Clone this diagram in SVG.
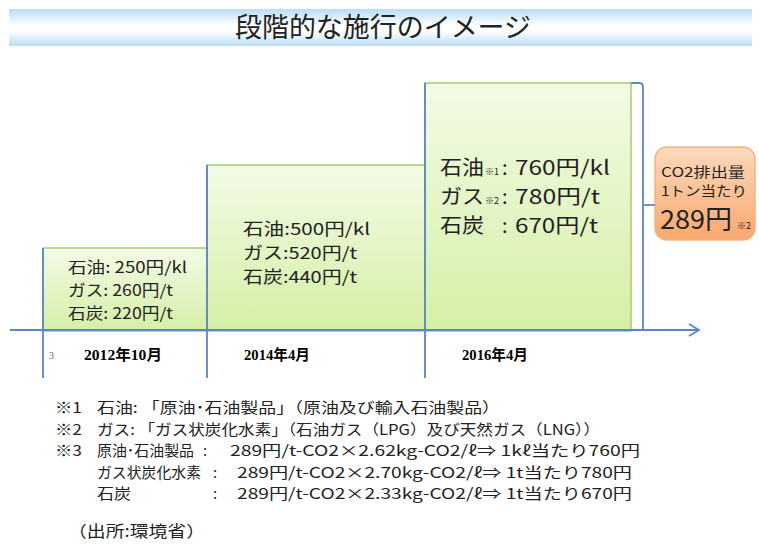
<svg xmlns="http://www.w3.org/2000/svg" width="759" height="544" viewBox="0 0 759 544">
<defs>
<linearGradient id="banner" x1="0" y1="0" x2="0" y2="1">
<stop offset="0" stop-color="#b9dcf6"/>
<stop offset="0.45" stop-color="#ffffff"/>
<stop offset="0.6" stop-color="#ffffff"/>
<stop offset="1" stop-color="#b9dcf6"/>
</linearGradient>
<linearGradient id="bar" x1="0" y1="0" x2="0" y2="1">
<stop offset="0" stop-color="#f3fbe6"/>
<stop offset="1" stop-color="#d5efa6"/>
</linearGradient>
<linearGradient id="orange" x1="0" y1="0" x2="0" y2="1">
<stop offset="0" stop-color="#fcd9bd"/>
<stop offset="1" stop-color="#f9a86e"/>
</linearGradient>
</defs>
<style>
.jp{font-family:"Noto Sans CJK JP","Noto Sans",sans-serif;fill:#222}
.bar{fill:url(#bar);stroke:#a8cc6c;stroke-width:1.5}
.blue{stroke:#5b86c5;stroke-width:1.8;fill:none}
.yr{font-family:"Liberation Serif","Noto Sans CJK JP",serif;font-weight:bold;font-size:15px;fill:#000}
.fn{font-family:"Noto Sans CJK JP","Noto Sans",sans-serif;font-size:14.8px;fill:#222}
</style>
<rect width="759" height="544" fill="#ffffff"/>
<g id="title">
<rect x="9" y="9" width="743" height="37" fill="url(#banner)"/>
<text x="383" y="37" text-anchor="middle" class="jp" font-size="27" fill="#111" textLength="296" lengthAdjust="spacingAndGlyphs">段階的な施行のイメージ</text>
</g>
<g id="bar2012">
<rect class="bar" x="43" y="248" width="164" height="83"/>
<text class="jp" font-size="15.5" x="68" y="273" textLength="119" lengthAdjust="spacingAndGlyphs">石油: 250円/kl</text>
<text class="jp" font-size="15.5" x="68" y="296" textLength="105" lengthAdjust="spacingAndGlyphs">ガス: 260円/t</text>
<text class="jp" font-size="15.5" x="68" y="318.5" textLength="105" lengthAdjust="spacingAndGlyphs">石炭: 220円/t</text>
</g>
<g id="bar2014">
<rect class="bar" x="207" y="165" width="218" height="166"/>
<text class="jp" font-size="16.5" x="243" y="235" textLength="127" lengthAdjust="spacingAndGlyphs">石油:500円/kl</text>
<text class="jp" font-size="16.5" x="243" y="259" textLength="114" lengthAdjust="spacingAndGlyphs">ガス:520円/t</text>
<text class="jp" font-size="16.5" x="243" y="283" textLength="114" lengthAdjust="spacingAndGlyphs">石炭:440円/t</text>
</g>
<g id="bar2016">
<rect class="bar" x="425" y="83" width="206" height="248"/>
<text class="jp" font-size="20" x="440" y="175" textLength="44" lengthAdjust="spacingAndGlyphs">石油</text>
<text class="jp" font-size="9" x="485" y="175">※1</text>
<text class="jp" font-size="20" x="502" y="175">:</text>
<text class="jp" font-size="20" x="515" y="175" textLength="95" lengthAdjust="spacingAndGlyphs">760円/kl</text>
<text class="jp" font-size="20" x="440" y="204" textLength="44" lengthAdjust="spacingAndGlyphs">ガス</text>
<text class="jp" font-size="9" x="485" y="204">※2</text>
<text class="jp" font-size="20" x="502" y="204">:</text>
<text class="jp" font-size="20" x="515" y="204" textLength="85" lengthAdjust="spacingAndGlyphs">780円/t</text>
<text class="jp" font-size="20" x="440" y="233" textLength="44" lengthAdjust="spacingAndGlyphs">石炭</text>
<text class="jp" font-size="20" x="502" y="233">:</text>
<text class="jp" font-size="20" x="515" y="233" textLength="83" lengthAdjust="spacingAndGlyphs">670円/t</text>
</g>
<g id="co2box">
<rect x="655" y="147" width="100" height="93" rx="12" fill="url(#orange)" stroke="#f5b27f" stroke-width="1.5"/>
<text class="jp" font-size="13.5" x="661" y="177" textLength="84" lengthAdjust="spacingAndGlyphs">CO2排出量</text>
<text class="jp" font-size="13.5" x="661" y="196" textLength="86" lengthAdjust="spacingAndGlyphs">1トン当たり</text>
<text class="jp" font-size="26" x="660" y="229" textLength="72" lengthAdjust="spacingAndGlyphs">289円</text>
<text class="jp" font-size="9" x="737" y="229">※2</text>
</g>
<g id="connectors">
<line class="blue" x1="10" y1="330" x2="699" y2="330"/>
<polyline class="blue" points="689,324 699,330 689,336" stroke-width="2"/>
<line class="blue" x1="43" y1="248" x2="43" y2="378"/>
<line class="blue" x1="207" y1="165" x2="207" y2="378"/>
<line class="blue" x1="425" y1="83" x2="425" y2="378"/>
<path class="blue" d="M631,83 H639 Q643,83 643,87 V330" stroke="#7fa2d6"/>
<line class="blue" x1="643" y1="205" x2="655" y2="205" stroke="#7fa2d6"/>
</g>
<g id="years">
<text x="49" y="359" font-family="Liberation Serif,serif" font-size="10" fill="#666">3</text>
<text class="yr" x="84" y="360" textLength="78" lengthAdjust="spacingAndGlyphs">2012年10月</text>
<text class="yr" x="244" y="360" textLength="66" lengthAdjust="spacingAndGlyphs">2014年4月</text>
<text class="yr" x="462" y="360" textLength="66" lengthAdjust="spacingAndGlyphs">2016年4月</text>
</g>
<g id="notes">
<text class="fn" x="55" y="413" textLength="27" lengthAdjust="spacingAndGlyphs">※1</text>
<text class="fn" x="97" y="413" textLength="403" lengthAdjust="spacingAndGlyphs">石油: 「原油･石油製品」（原油及び輸入石油製品）</text>
<text class="fn" x="55" y="434.5" textLength="27" lengthAdjust="spacingAndGlyphs">※2</text>
<text class="fn" x="97" y="434.5" textLength="503" lengthAdjust="spacingAndGlyphs">ガス: 「ガス状炭化水素」（石油ガス（LPG）及び天然ガス（LNG））</text>
<text class="fn" x="55" y="456" textLength="27" lengthAdjust="spacingAndGlyphs">※3</text>
<text class="fn" x="97" y="456" textLength="97" lengthAdjust="spacingAndGlyphs">原油･石油製品</text>
<text class="fn" x="203" y="456">:</text>
<text class="fn" x="230" y="456" textLength="410" lengthAdjust="spacingAndGlyphs">289円/t-CO2×2.62kg-CO2/ℓ⇒ 1kℓ当たり760円</text>
<text class="fn" x="97" y="477.5" textLength="104" lengthAdjust="spacingAndGlyphs">ガス状炭化水素</text>
<text class="fn" x="213" y="477.5">:</text>
<text class="fn" x="237" y="477.5" textLength="395" lengthAdjust="spacingAndGlyphs">289円/t-CO2×2.70kg-CO2/ℓ⇒ 1t当たり780円</text>
<text class="fn" x="97" y="499" textLength="34" lengthAdjust="spacingAndGlyphs">石炭</text>
<text class="fn" x="213" y="499">:</text>
<text class="fn" x="237" y="499" textLength="395" lengthAdjust="spacingAndGlyphs">289円/t-CO2×2.33kg-CO2/ℓ⇒ 1t当たり670円</text>
<text class="jp" font-size="16" x="68" y="537" fill="#333" textLength="137" lengthAdjust="spacingAndGlyphs">（出所:環境省）</text>
</g>
</svg>
